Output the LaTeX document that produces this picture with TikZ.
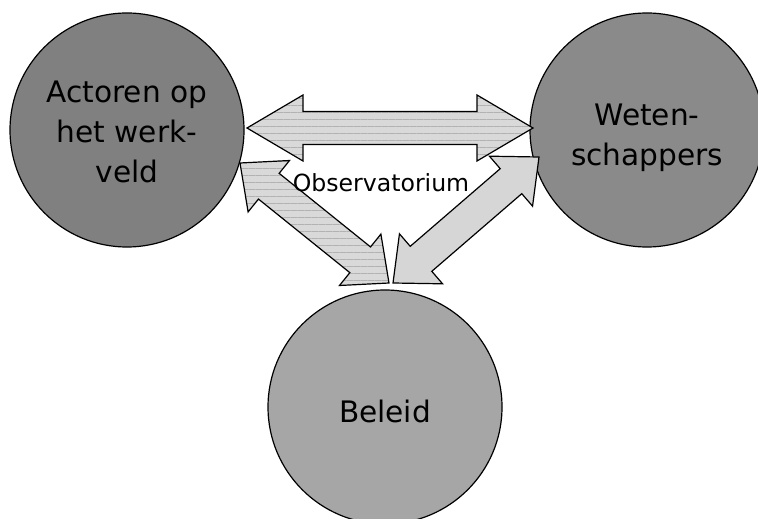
\documentclass[tikz,border=0pt]{standalone}
\usepackage{fontspec}
\setmainfont{DejaVu Sans}
\usetikzlibrary{calc,positioning,patterns.meta}

% block arrow with two heads: [style]{from}{to}{head length}
\newcommand{\blockarrow}[4][]{%
  \draw[#1] (#2)
    -- ($(#2)!#4!(#3)!16.5pt!90:(#3)$)
    -- ($(#2)!#4!(#3)!8.25pt!90:(#3)$)
    -- ($(#3)!#4!(#2)!8.25pt!-90:(#2)$)
    -- ($(#3)!#4!(#2)!16.5pt!-90:(#2)$)
    -- (#3)
    -- ($(#3)!#4!(#2)!16.5pt!90:(#2)$)
    -- ($(#3)!#4!(#2)!8.25pt!90:(#2)$)
    -- ($(#2)!#4!(#3)!8.25pt!-90:(#3)$)
    -- ($(#2)!#4!(#3)!16.5pt!-90:(#3)$)
    -- cycle;}

\begin{document}
\begin{tikzpicture}[x=0.5pt,y=-0.5pt,
  bubble/.style={circle,draw=black,line width=0.6pt,minimum size=117pt,inner sep=0pt},
  label/.style={align=center,font=\fontsize{14.8}{20}\selectfont},
  pijl/.style={draw=black,line width=0.6pt,preaction={fill=black!15},
    pattern={Lines[angle=0,distance=3.5pt,line width=0.35pt]},pattern color=black!30},
  pijlvol/.style={draw=black,line width=0.6pt,fill=black!16}]
\useasboundingbox (0,0) rectangle (758,518);
\clip (0,0) rectangle (758,518);
    % de drie partijen
    \node[bubble,fill=black!50] (act) at (127,130) {};
    \node[label,yshift=-1pt] (acttxt) at (act) {Actoren op\\het werk-\\veld};
    \node[bubble,fill=black!46] (wet) at (647,130) {};
    \node[label,yshift=-4pt] (wettxt) at (wet) {Weten-\\schappers};
    \node[bubble,fill=black!35] (bel) at (385,407) {};
    \node[label,yshift=-2pt] (beltxt) at (bel) {Beleid};
    % punten van de pijlen
    \coordinate (h1) at (247,128);
    \coordinate (h2) at (533,128);
    \coordinate (l1) at (240,163);
    \coordinate (l2) at (389,283);
    \coordinate (r1) at (393,283);
    \coordinate (r2) at (539,157);
    \blockarrow[pijl]{h1}{h2}{28pt}
    \blockarrow[pijl]{l1}{l2}{18.5pt}
    \blockarrow[pijlvol]{r1}{r2}{18.5pt}
    \node[font=\fontsize{11.8}{14}\selectfont] (obs) at (381,183) {Observatorium};
\end{tikzpicture}
\end{document}
